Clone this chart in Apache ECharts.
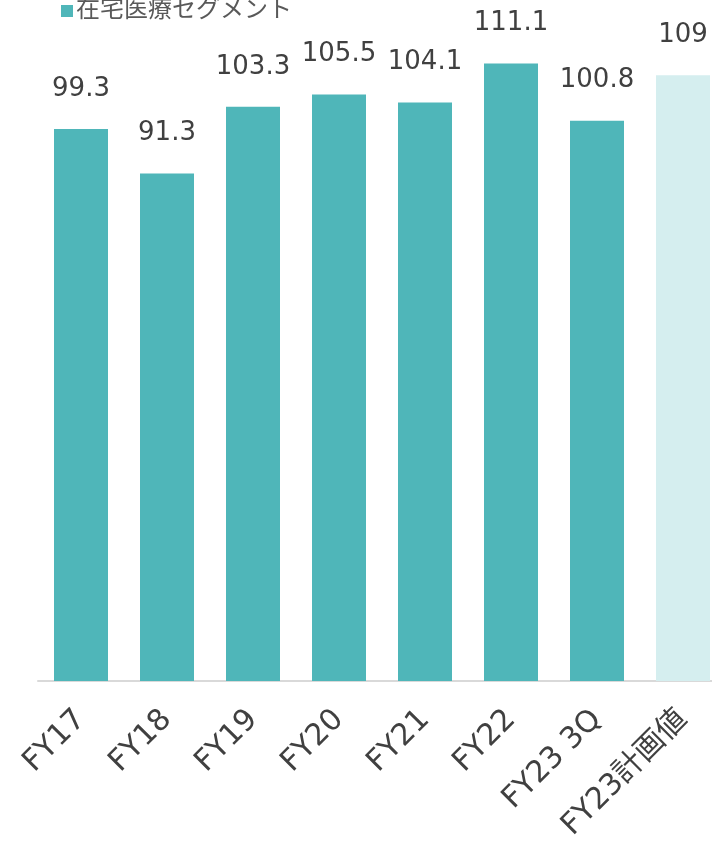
<!DOCTYPE html>
<html>
<head>
<meta charset="utf-8">
<script src="https://cdn.jsdelivr.net/npm/echarts@6/dist/echarts.min.js"></script>
<style>
  html, body { margin: 0; padding: 0; background: #fff; }
  #chart { width: 712px; height: 850px; }
</style>
</head>
<body>
<div id="chart"></div>
<script>
// データ
var categories = ['FY17', 'FY18', 'FY19', 'FY20', 'FY21', 'FY22', 'FY23 3Q', 'FY23計画値'];
var values = [99.3, 91.3, 103.3, 105.5, 104.1, 111.1, 100.8, 109];
var seriesName = '在宅医療セグメント';
var planIndex = 7; // 計画値は薄い色

var font = "'DejaVu Sans', 'Noto Sans CJK JP', sans-serif";

var barData = values.map(function(v, i) {
    if (i == planIndex) {
        return { value: v, itemStyle: { color: '#d5eeef' } };
    }
    return v;
});

var myChart = echarts.init(document.getElementById('chart'));
myChart.setOption({
    animation: false,
    legend: {
        left: 56,
        top: -6,
        itemWidth: 12,
        itemHeight: 12,
        itemGap: 4,
        icon: 'rect',
        textStyle: { fontSize: 24, color: '#595959', fontFamily: font, padding: [0, 0, 0, -2] },
        data: [seriesName]
    },
    grid: {
        left: 38,
        width: 688,
        top: 14,
        bottom: 169,
        containLabel: false,
        outerBoundsMode: 'none'
    },
    xAxis: {
        type: 'category',
        data: categories,
        axisLine: { lineStyle: { color: '#d9d9d9', width: 2 } },
        axisTick: { show: false },
        axisLabel: {
            interval: 0,
            rotate: 45,
            margin: 34,
            align: 'right',
            verticalAlign: 'middle',
            padding: [24, 0, 0, 0],
            fontSize: 30,
            color: '#404040',
            fontFamily: font
        }
    },
    yAxis: {
        type: 'value',
        min: 0,
        max: 120,
        show: false,
        splitLine: { show: false }
    },
    series: [{
        name: seriesName,
        type: 'bar',
        barWidth: 54,
        itemStyle: { color: '#4fb6b9' },
        label: {
            show: true,
            position: 'top',
            distance: 27,
            fontSize: 26,
            color: '#404040',
            fontFamily: font
        },
        data: barData
    }]
});
</script>
</body>
</html>
